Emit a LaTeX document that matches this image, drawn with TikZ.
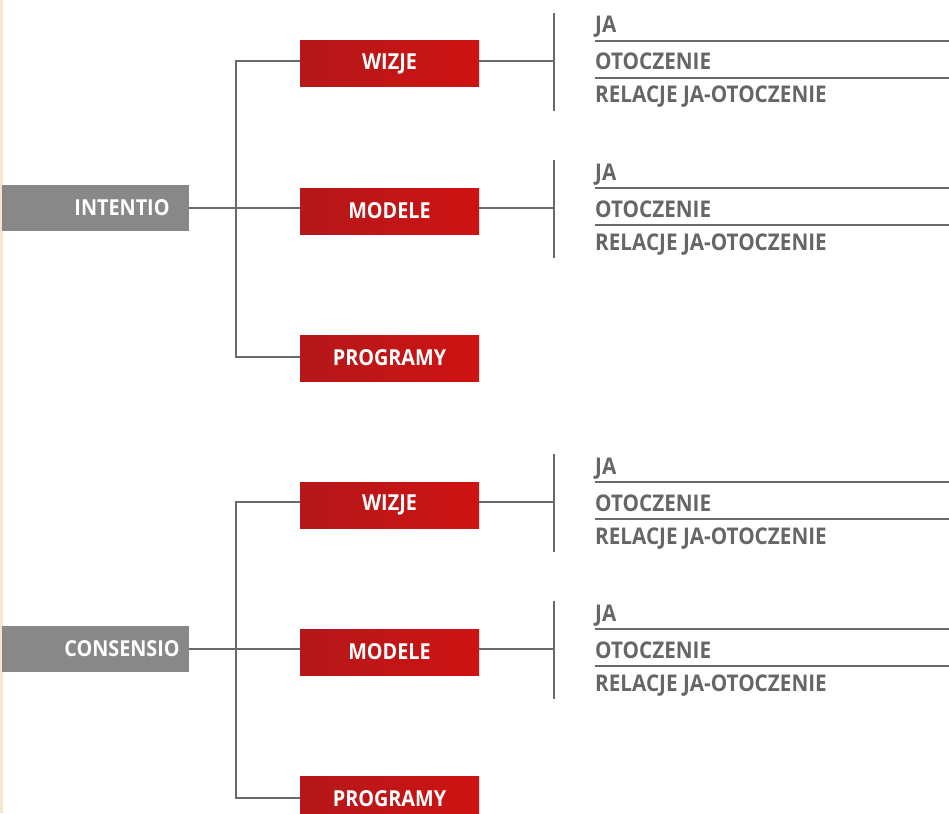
\documentclass[tikz,border=0pt]{standalone}
\usepackage{fontspec}
\setmainfont{Open Sans}[FakeStretch=0.9]
\definecolor{linegray}{HTML}{6A6A6A}
\definecolor{txtgray}{HTML}{666666}
\definecolor{boxgray}{HTML}{888888}
\definecolor{redL}{HTML}{B4181A}
\definecolor{redR}{HTML}{CF1212}
\definecolor{beige}{HTML}{F3E5D0}
\tikzset{
  conn/.style={draw=linegray, line width=2.8pt},
  uline/.style={draw=linegray, line width=1.6pt},
  redbox/.style={rectangle, minimum width=179pt, minimum height=46pt, inner sep=0pt,
    left color=redL, right color=redR, text=white, font=\bfseries\fontsize{22}{24}\selectfont},
  graybox/.style={rectangle, fill=boxgray, minimum width=187pt, minimum height=46pt, inner sep=0pt},
  graytext/.style={text=white, font=\bfseries\fontsize{22}{24}\selectfont, inner sep=0pt},
  item/.style={anchor=base west, inner sep=0pt, text=txtgray, font=\bfseries\fontsize{23}{26}\selectfont}
}
\newcommand\subgroup[2]{% name, y0
  \coordinate (#1bt) at (554,#2-48);
  \coordinate (#1bb) at (554,#2+50);
  \coordinate (#1bm) at (554,#2);
  \draw[conn] (#1bt) -- (#1bb);
  \node[item] (#1ja) at (595,#2-28) {JA};
  \coordinate (#1u1s) at (595,#2-20);
  \coordinate (#1u1e) at (949,#2-20);
  \draw[uline] (#1u1s) -- (#1u1e);
  \node[item] (#1ot) at (595,#2+9) {OTOCZENIE};
  \coordinate (#1u2s) at (595,#2+17);
  \coordinate (#1u2e) at (949,#2+17);
  \draw[uline] (#1u2s) -- (#1u2e);
  \node[item] (#1rel) at (595,#2+42) {RELACJE JA-OTOCZENIE};
}
\newcommand\treegroup[3]{% name, dy, root text
  \node[graybox] (#1root) at (95.5,208+#2) {};
  \node[graytext] (#1roottxt) at (122,208+#2) {#3};
  \node[redbox] (#1wiz) at (389.5,64+#2) {WIZJE};
  \node[redbox] (#1mod) at (389.5,211+#2) {MODELE};
  \node[redbox] (#1prog) at (389.5,358+#2) {PROGRAMY};
  \coordinate (#1tt) at (236,61+#2);
  \coordinate (#1tm) at (236,208+#2);
  \coordinate (#1tb) at (236,357+#2);
  \draw[conn] (#1root.east |- #1tm) -- (#1tm);
  \draw[conn] (#1wiz.west |- #1tt) -- (#1tt) -- (#1tb) -- (#1prog.west |- #1tb);
  \draw[conn] (#1tm) -- (#1mod.west |- #1tm);
  \subgroup{#1a}{61+#2}
  \subgroup{#1b}{208+#2}
  \draw[conn] (#1wiz.east |- #1abm) -- (#1abm);
  \draw[conn] (#1mod.east |- #1bbm) -- (#1bbm);
}
\begin{document}
\begin{tikzpicture}[x=1pt,y=-1pt]
\useasboundingbox (0,0) rectangle (949,813);
\fill[white] (0,0) rectangle (949,813);
\fill[beige] (0,0) rectangle (3,813);
\treegroup{I}{0}{INTENTIO}
\treegroup{C}{441}{CONSENSIO}
\end{tikzpicture}
\end{document}
